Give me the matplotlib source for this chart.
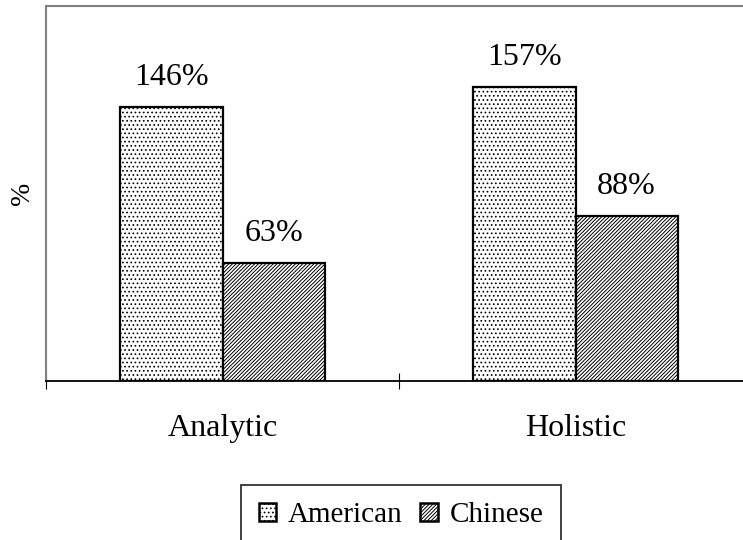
import numpy as np
import matplotlib.pyplot as plt
from matplotlib.patches import Patch

# Analytic vs holistic scores by group
categories = ['Analytic', 'Holistic']
groups = ['American', 'Chinese']
american = [146, 157]
chinese = [63, 88]

plt.rcParams['font.family'] = ['Liberation Serif', 'DejaVu Serif']
plt.rcParams['hatch.color'] = '#333333'
plt.rcParams['hatch.linewidth'] = 0.7

fig = plt.figure(figsize=(7.43, 5.40), dpi=100)
ax = fig.add_axes([46 / 743, 159 / 540, 706 / 743, 375 / 540])

x = np.arange(len(categories))
width = 0.289
styles = [('white', '....'), ('white', '/////////')]

for i, (vals, (fc, hatch)) in enumerate(zip([american, chinese], styles)):
    offset = (i - 0.5) * width
    bars = ax.bar(x + offset, vals, width, facecolor=fc, edgecolor='black',
                  linewidth=1.6, hatch=hatch, zorder=3)
    for b, v in zip(bars, vals):
        ax.text(b.get_x() + b.get_width() / 2, v + 8, f'{v}%',
                ha='center', va='bottom', fontsize=23)

ax.set_xlim(-0.5, 1.5)
ax.set_ylim(0, 200)

# boundaries get tick marks, category names sit between them
ax.set_xticks([-0.5, 0.5, 1.5])
ax.set_xticklabels([])
ax.set_xticks(x, minor=True)
ax.set_xticklabels(categories, minor=True, fontsize=23)
ax.tick_params(axis='x', which='major', direction='inout', length=12,
               width=0.8, color='black')
ax.tick_params(axis='x', which='minor', length=0, pad=24)
ax.set_yticks([])
ax.set_ylabel('%', fontsize=20, labelpad=8)

for s in ['top', 'left', 'right']:
    ax.spines[s].set_color('#808080')
    ax.spines[s].set_linewidth(1.5)
ax.spines['bottom'].set_color('black')
ax.spines['bottom'].set_linewidth(1.3)

handles = [Patch(facecolor='white', edgecolor='black', hatch=h, linewidth=1.8)
           for _, h in styles]
leg = fig.legend(handles, groups, loc='upper center',
                 bbox_to_anchor=(401 / 743, 1 - 485 / 540), ncol=2,
                 fontsize=21, frameon=True, fancybox=False,
                 handlelength=0.6, handleheight=0.6, handletextpad=0.4,
                 columnspacing=0.6, borderpad=0.6, borderaxespad=0)
leg.get_frame().set_edgecolor('black')
leg.get_frame().set_linewidth(1.3)

fig.savefig('out.png', dpi=100)
